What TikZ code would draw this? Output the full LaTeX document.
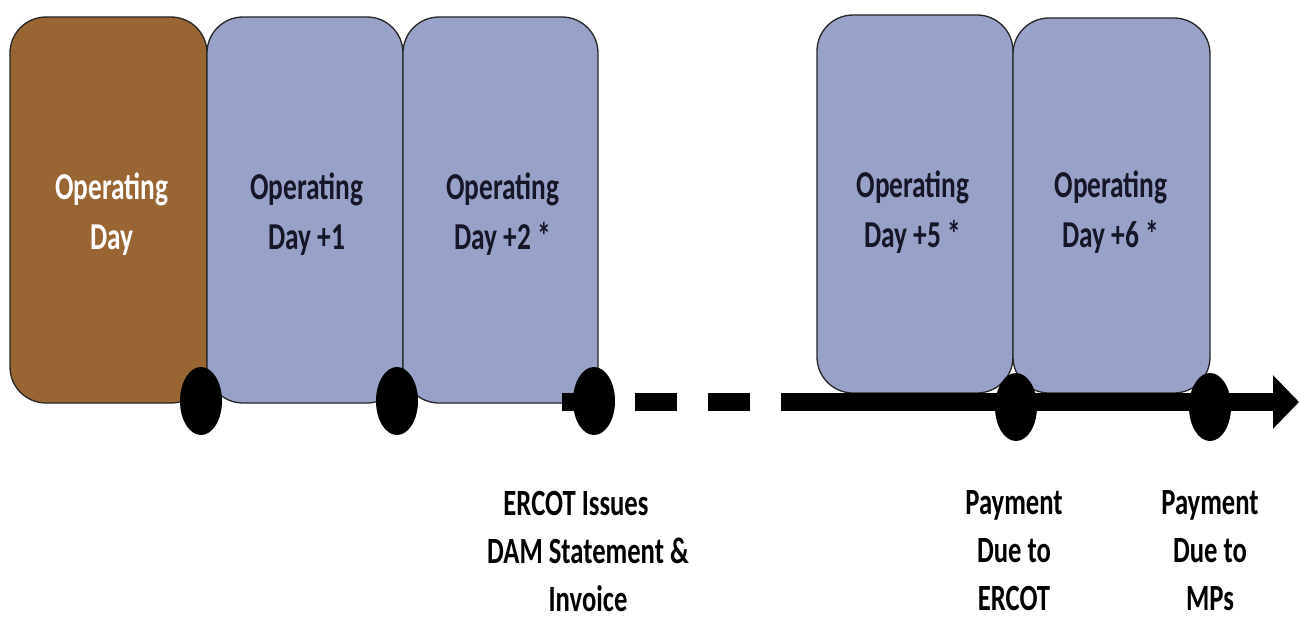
\documentclass[tikz,border=0pt]{standalone}
\usepackage{fontspec}
\setmainfont[FakeStretch=0.72]{Carlito}
\usetikzlibrary{shapes.geometric,arrows.meta}
\definecolor{brownbox}{RGB}{153,102,51}
\definecolor{bluebox}{RGB}{152,162,200}
\definecolor{navytext}{RGB}{22,22,40}
\begin{document}
\begin{tikzpicture}[x=1pt,y=-1pt,
  daybox/.style={draw=black!85, line width=1.3pt, rounded corners=36pt, inner sep=0pt,
    minimum width=196pt, minimum height=386pt},
  bluedaybox/.style={daybox, fill=bluebox},
  browndaybox/.style={daybox, fill=brownbox},
  daytext/.style={align=center, inner sep=0pt, text=navytext,
    font=\fontsize{38}{50}\selectfont\bfseries},
  dotnode/.style={ellipse, fill=black, inner sep=0pt, minimum width=42pt, minimum height=68pt},
  timeline/.style={line width=18pt, black},
  eventlabel/.style={align=center, text=black, font=\fontsize{37}{48}\selectfont\bfseries}
]
\useasboundingbox (0,0) rectangle (1299,618);
\fill[white] (0,0) rectangle (1299,618);

% boxes
\node[browndaybox, minimum width=197pt] (b0) at (108.5,210) {};
\node[bluedaybox] (b1) at (305,210) {};
\node[bluedaybox, minimum width=195pt] (b2) at (500.5,210) {};
\node[bluedaybox, minimum height=378pt] (b5) at (915,204) {};
\node[bluedaybox, minimum width=197pt, minimum height=375pt] (b6) at (1111.5,205.5) {};

% box texts
\node[daytext, text=white] (t0) at (112,214) {Operating\\Day};
\node[daytext] (t1) at (307,214) {Operating\\Day +1};
\node[daytext] (t2) at (503,214) {Operating\\Day +2\,*};
\node[daytext] (t5) at (913,212) {Operating\\Day +5\,*};
\node[daytext] (t6) at (1111,212) {Operating\\Day +6\,*};

% timeline
\coordinate (ls) at (562,402);
\coordinate (lm) at (781,402);
\coordinate (tip) at (1299,402);
\draw[timeline, dash pattern=on 42pt off 31pt] (ls) -- (lm);
\draw[timeline, -{Triangle[length=26pt,width=52pt]}] (lm) -- (tip);

% dots
\node[dotnode] (d1) at (201,401) {};
\node[dotnode] (d2) at (397,401) {};
\node[dotnode] (d3) at (594,401) {};
\node[dotnode] (d5) at (1016,407) {};
\node[dotnode] (d6) at (1210,407) {};

% labels
\node[eventlabel] (l3) at (588,551) {ERCOT Issues\hspace*{24pt}\\DAM Statement \&\\Invoice};
\node[eventlabel] (l5) at (1014,551) {Payment\\Due to\\ERCOT};
\node[eventlabel] (l6) at (1210,551) {Payment\\Due to\\MPs};
\end{tikzpicture}
\end{document}
